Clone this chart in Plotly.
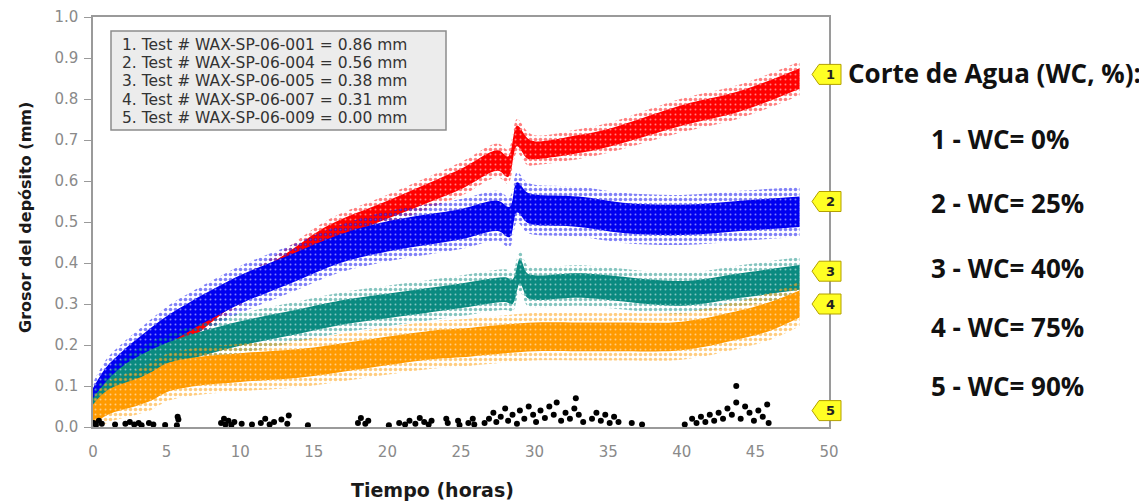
import plotly.graph_objects as go

# ---------------- data ----------------
red_t = [0, 1, 2, 3, 5, 7, 10, 13, 16, 20, 25, 27.5, 28.2, 28.8, 29.5, 30, 33, 35, 40, 44, 48]
red_mm = [0.04, 0.07, 0.10, 0.13, 0.19, 0.245, 0.33, 0.40, 0.47, 0.53, 0.605, 0.65, 0.635, 0.71,
          0.68, 0.675, 0.69, 0.705, 0.76, 0.795, 0.85]
red_sd = [0.015, 0.02, 0.02, 0.02, 0.02, 0.02, 0.02, 0.02, 0.022, 0.022, 0.025, 0.025, 0.025, 0.025,
          0.025, 0.022, 0.022, 0.022, 0.025, 0.025, 0.025]

blue_t = [0, 0.5, 1, 2, 3, 5, 6.6, 10, 13.4, 16.8, 20, 25, 27.5, 28.3, 28.8, 29.5, 30, 33, 36, 40, 44, 48]
blue_mm = [0.075, 0.10, 0.12, 0.155, 0.185, 0.235, 0.27, 0.335, 0.385, 0.435, 0.465, 0.495, 0.515, 0.50,
           0.56, 0.535, 0.53, 0.525, 0.51, 0.505, 0.515, 0.525]
blue_sd = [0.02, 0.025, 0.03, 0.03, 0.03, 0.035, 0.035, 0.035, 0.035, 0.035, 0.037, 0.037, 0.037, 0.037,
           0.037, 0.037, 0.037, 0.037, 0.037, 0.037, 0.037, 0.037]

teal_t = [0, 1, 2, 3.2, 5, 6.6, 10, 13.4, 17, 20, 25, 28, 28.5, 29, 29.5, 30, 33, 35, 40, 44, 48]
teal_mm = [0.05, 0.09, 0.12, 0.145, 0.175, 0.195, 0.228, 0.253, 0.28, 0.295, 0.32, 0.335, 0.33, 0.38,
           0.345, 0.34, 0.345, 0.34, 0.326, 0.345, 0.365]
teal_sd = [0.02, 0.025, 0.028, 0.03, 0.03, 0.03, 0.03, 0.03, 0.03, 0.03, 0.03, 0.03, 0.03, 0.03,
           0.03, 0.03, 0.03, 0.03, 0.03, 0.03, 0.03]

orange_t = [0, 1, 3, 4, 5, 7, 10, 14, 18, 23, 25, 28, 30, 33, 36, 40, 44, 46, 48]
orange_mm = [0.03, 0.06, 0.085, 0.10, 0.12, 0.135, 0.145, 0.155, 0.175, 0.20, 0.205, 0.215, 0.22, 0.22,
             0.22, 0.222, 0.25, 0.27, 0.30]
orange_sd = [0.025, 0.03, 0.033, 0.035, 0.035, 0.035, 0.035, 0.035, 0.035, 0.035, 0.035, 0.035, 0.035,
             0.035, 0.035, 0.035, 0.035, 0.035, 0.033]

black_t = [0.05, 0.2, 0.4, 0.6, 1.5, 2.2, 2.5, 2.8, 3.1, 3.3, 3.8, 4.1, 4.9, 5.7, 5.8, 5.75,
           8.7, 8.9, 9.0, 9.2, 9.4, 9.6, 10.1, 10.8, 11.4, 11.7, 12.0, 12.3, 12.8, 13.3, 13.2, 14.6,
           18.0, 18.2, 18.5, 18.7, 20.1, 20.8, 21.2, 21.5, 21.9, 22.2, 22.5, 22.8, 23.0,
           24.0, 24.1, 24.8, 24.9, 25.5, 25.8, 25.9,
           26.6, 26.9, 27.2, 27.4, 27.7, 28.0, 28.2, 28.5, 28.8, 29.0, 29.3, 29.6, 29.9, 30.1, 30.4,
           30.7, 31.0, 31.3, 31.5, 31.8, 32.1, 32.4, 32.7, 32.8, 33.0, 33.3, 33.9, 34.2, 34.5, 34.8,
           35.1, 35.4, 35.7, 36.6, 37.3,
           40.2, 40.7, 41.0, 41.3, 41.6, 41.9, 42.2, 42.5, 42.8, 43.1, 43.4, 43.7, 43.7, 44.0, 44.3,
           44.6, 44.9, 45.2, 45.5, 45.8, 45.9]
black_mm = [0.01, 0.005, 0.015, 0.008, 0.006, 0.008, 0.012, 0.006, 0.01, 0.004, 0.01, 0.006, 0.005,
            0.004, 0.018, 0.025,
            0.01, 0.02, 0.006, 0.015, 0.005, 0.012, 0.008, 0.006, 0.01, 0.02, 0.006, 0.012, 0.018,
            0.028, 0.008, 0.004,
            0.01, 0.022, 0.008, 0.015, 0.004, 0.01, 0.006, 0.015, 0.008, 0.022, 0.012, 0.006, 0.015,
            0.02, 0.01, 0.015, 0.005, 0.01, 0.02, 0.006,
            0.01, 0.02, 0.035, 0.012, 0.025, 0.045, 0.015, 0.03, 0.008, 0.04, 0.02, 0.05, 0.03, 0.012,
            0.04, 0.022, 0.05, 0.03, 0.06, 0.015, 0.035, 0.02, 0.045, 0.07, 0.03, 0.012, 0.02, 0.035,
            0.015, 0.03, 0.01, 0.025, 0.012, 0.01, 0.006,
            0.006, 0.02, 0.01, 0.025, 0.012, 0.03, 0.015, 0.035, 0.02, 0.045, 0.03, 0.1, 0.06, 0.02,
            0.05, 0.035, 0.015, 0.04, 0.025, 0.055, 0.01]

test_ids = ["WAX-SP-06-001", "WAX-SP-06-004", "WAX-SP-06-005", "WAX-SP-06-007", "WAX-SP-06-009"]
final_mm = [0.86, 0.56, 0.38, 0.31, 0.00]
water_cut_pct = [0, 25, 40, 75, 90]
tag_labels = ["1", "2", "3", "4", "5"]
x_ticks = [0, 5, 10, 15, 20, 25, 30, 35, 40, 45, 50]
y_ticks = [0.0, 0.1, 0.2, 0.3, 0.4, 0.5, 0.6, 0.7, 0.8, 0.9, 1.0]

# ---------------- styling / placement ----------------
tag_y = [0.86, 0.55, 0.38, 0.30, 0.04]
colors = ["#ff0000", "#0000f0", "#0a8a80", "#ff9a00"]

OFF = 8                      # page body margin
W, H = 1147 - OFF, 502 - OFF
PX0, PX1, PY0, PY1 = 93, 829, 17, 427   # plot area in screen pixels
L, T = PX0 - OFF, PY0 - OFF
PW, PH = PX1 - PX0, PY1 - PY0
R, B = W - L - PW, H - T - PH


def xp(px):
    return (px - PX0) / PW


def yp(py):
    return (PY1 - py) / PH


fig = go.Figure()

bands = [(red_t, red_mm, red_sd), (blue_t, blue_mm, blue_sd),
         (teal_t, teal_mm, teal_sd), (orange_t, orange_mm, orange_sd)]

for (t, m, s), c in zip(bands, colors):
    outer_lo = [v - 1.65 * d for v, d in zip(m, s)]
    outer_hi = [v + 1.65 * d for v, d in zip(m, s)]
    inner_lo = [v - d for v, d in zip(m, s)]
    inner_hi = [v + d for v, d in zip(m, s)]
    fig.add_trace(go.Scatter(x=t, y=outer_lo, mode="lines", line=dict(width=0, shape="spline"),
                             showlegend=False, hoverinfo="skip"))
    fig.add_trace(go.Scatter(x=t, y=outer_hi, mode="lines", line=dict(width=0, shape="spline"),
                             fill="tonexty", fillcolor="rgba(0,0,0,0)",
                             fillpattern=dict(shape=".", fgcolor=c, bgcolor="rgba(255,255,255,0)",
                                              size=5, solidity=0.4),
                             showlegend=False, hoverinfo="skip"))
    fig.add_trace(go.Scatter(x=t, y=inner_lo, mode="lines", line=dict(width=0, shape="spline"),
                             showlegend=False, hoverinfo="skip"))
    fig.add_trace(go.Scatter(x=t, y=inner_hi, mode="lines", line=dict(width=0, shape="spline"),
                             fill="tonexty", fillcolor=c,
                             fillpattern=dict(shape=".", fgcolor="white", bgcolor=c,
                                              fgopacity=0.5, size=5, solidity=0.12),
                             showlegend=False, hoverinfo="skip"))

fig.add_trace(go.Scatter(x=black_t, y=black_mm, mode="markers",
                         marker=dict(color="black", size=6), showlegend=False, hoverinfo="skip"))

fig.update_layout(
    width=W, height=H, margin=dict(l=L, r=R, t=T, b=B, autoexpand=False),
    paper_bgcolor="white", plot_bgcolor="white", showlegend=False,
    xaxis=dict(range=[0, 50], tickvals=x_ticks, showgrid=False, zeroline=False, automargin=False,
               showline=True, linecolor="#9a9a9a", linewidth=1.5, mirror=True,
               ticks="", ticklabelstandoff=10,
               tickfont=dict(family="DejaVu Sans", size=15, color="#8a8a8a")),
    yaxis=dict(range=[0, 1.0], tickvals=y_ticks, tickformat=".1f", showgrid=False, zeroline=False,
               automargin=False,
               showline=True, linecolor="#9a9a9a", linewidth=1.5, mirror=True,
               ticks="outside", ticklen=7, tickcolor="#9a9a9a", ticklabelstandoff=3,
               tickfont=dict(family="DejaVu Sans", size=15, color="#8a8a8a")),
)

# yellow numbered tags at the right edge (left-pointing pentagons)
for lab, ty in zip(tag_labels, tag_y):
    fig.add_shape(type="path", xref="paper", yref="y", xsizemode="pixel", ysizemode="pixel",
                  xanchor=1.0, yanchor=ty,
                  path="M -17 0 L -10 10 L 12 10 L 12 -10 L -10 -10 Z",
                  fillcolor="#ffff24", line=dict(color="#b3a000", width=1), layer="above")
    fig.add_annotation(xref="paper", yref="y", x=1.0, y=ty, xshift=1, showarrow=False,
                       xanchor="center", yanchor="middle", text="<b>%s</b>" % lab,
                       font=dict(family="DejaVu Sans", size=13, color="#222"))

# legend box
fig.add_shape(type="rect", xref="paper", yref="paper", x0=xp(111), x1=xp(446), y0=yp(130), y1=yp(31),
              fillcolor="#ececec", line=dict(color="#8c8c8c", width=1.5), layer="above")
for i, (tid, v) in enumerate(zip(test_ids, final_mm)):
    fig.add_annotation(xref="paper", yref="paper", x=xp(121), y=yp(45 + 18.2 * i),
                       xanchor="left", yanchor="middle", showarrow=False, borderpad=0,
                       text="%d. Test # %s = %.2f mm" % (i + 1, tid, v),
                       font=dict(family="DejaVu Sans", size=15.5, color="#333"))

# axis titles
fig.add_annotation(xref="paper", yref="paper", x=xp(25), y=yp(218), textangle=-90, showarrow=False,
                   xanchor="center", yanchor="middle",
                   text="<b>Grosor del depósito (mm)</b>",
                   font=dict(family="DejaVu Sans", size=16, color="#1a1a1a"))
fig.add_annotation(xref="paper", yref="paper", x=xp(432), y=yp(490), showarrow=False,
                   xanchor="center", yanchor="middle",
                   text="<b>Tiempo (horas)</b>",
                   font=dict(family="DejaVu Sans", size=19, color="#1a1a1a"))

# right-side water-cut list
fig.add_annotation(xref="paper", yref="paper", x=xp(846), y=yp(73), xanchor="left", yanchor="middle",
                   showarrow=False, text="<b>Corte de Agua (WC, %):</b>",
                   font=dict(family="Open Sans", size=26, color="#111"))
item_y = [139, 203, 268, 327, 386]
for lab, wc, py in zip(tag_labels, water_cut_pct, item_y):
    fig.add_annotation(xref="paper", yref="paper", x=xp(929), y=yp(py), xanchor="left",
                       yanchor="middle", showarrow=False, text="<b>%s - WC= %d%%</b>" % (lab, wc),
                       font=dict(family="Open Sans", size=26, color="#111"))

fig.write_html("out.html")
